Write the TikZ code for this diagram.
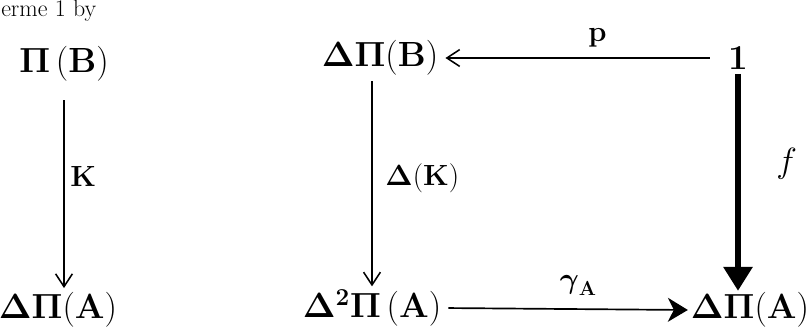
\documentclass[tikz,border=0pt]{standalone}
\usepackage{amsmath}
\usepackage{amssymb}
\usetikzlibrary{arrows.meta,positioning}

\begin{document}
\begin{tikzpicture}[
  x=0.025cm, y=-0.025cm,
  obj/.style={inner sep=1pt, font=\fontsize{24}{28}\selectfont},
  lab/.style={inner sep=1pt, font=\fontsize{20}{24}\selectfont},
  map/.style={-{Straight Barb[length=3.2mm, width=4.2mm, line width=1.1pt]}, line width=1.1pt},
  heavy/.style={-{Triangle[length=6mm, width=7mm]}, line width=4.5pt},
  push/.style={-{Stealth[length=5mm, width=6mm, inset=1.5mm]}, line width=1.2pt}
]
\useasboundingbox (0,0) rectangle (811,336);

% scan fragment at the top edge
\node[anchor=base west, inner sep=0pt, font=\fontsize{17}{20}\selectfont] (scrap) at (1,16) {erme 1 by};

% left column
\node[obj] (piB) at (64,64) {$\mathbf{\Pi\,(B)}$};
\node[obj] (dpiA) at (58,310) {$\mathbf{\Delta\Pi(A)}$};

% square
\node[obj] (dpiB) at (380,58) {$\mathbf{\Delta\Pi(B)}$};
\node[obj] (one) at (738,58) {$\mathbf{1}$};
\node[obj] (d2pi) at (372,308) {$\mathbf{\Delta^{2}\Pi\,(A)}$};
\node[obj] (dpiA2) at (750,310) {$\mathbf{\Delta\Pi(A)}$};

\draw[map, shorten <=12pt, shorten >=2pt] (piB.south) -- (piB.south |- dpiA.north)
  node[lab, pos=0.45, right=3pt] (kap) {$\mathbf{K}$};
\draw[map, shorten <=3pt, shorten >=1pt] (dpiB.south -| d2pi.north) -- (d2pi.north)
  node[lab, pos=0.48, right=8pt] (dkap) {$\mathbf{\Delta(K)}$};
\draw[map, shorten <=12pt, shorten >=4pt] (one.west) -- (dpiB.east)
  node[lab, pos=0.45, above=6pt] (rho) {$\mathbf{p}$};
\draw[heavy, shorten <=2pt, shorten >=0pt] (one.south) -- (one.south |- dpiA2.north)
  node[lab, pos=0.42, right=24pt, font=\fontsize{26}{30}\selectfont] (eff) {$f$};
\draw[push, shorten <=4pt, shorten >=1pt] (d2pi.east) -- (dpiA2.west)
  node[lab, pos=0.55, above=8pt] (gam) {$\boldsymbol{\gamma}_{\mathbf{A}}$};
\end{tikzpicture}
\end{document}
